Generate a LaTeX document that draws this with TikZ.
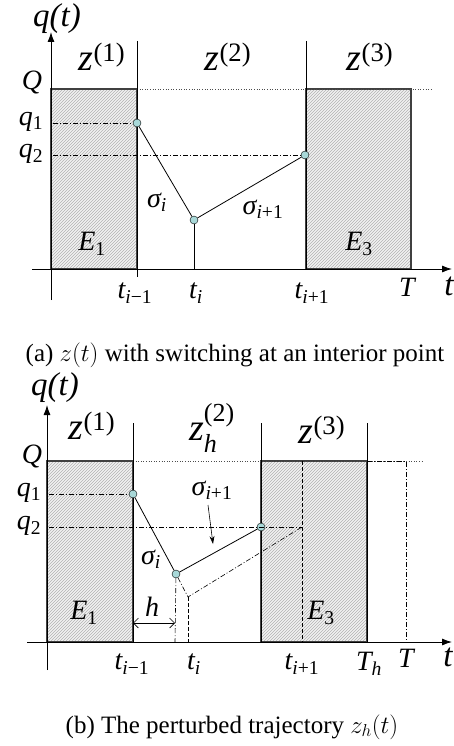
\documentclass[tikz,border=0pt]{standalone}
\usepackage{fontspec}
\setmainfont{Liberation Serif}
\usetikzlibrary{patterns,arrows.meta}
\definecolor{ptfill}{HTML}{A8D8D8}

\begin{document}
\begin{tikzpicture}[x=1pt,y=-1pt,
  axis/.style={-{Latex[length=10pt,width=7pt]},line width=0.9pt},
  region/.style={draw=black!75,line width=1.4pt,pattern=north east lines,pattern color=black!30,preaction={fill=black!5}},
  sep/.style={line width=0.8pt},
  dashdot/.style={dash pattern=on 5pt off 2pt on 1pt off 2pt,line width=0.6pt},
  dashline/.style={dash pattern=on 4pt off 2pt,line width=0.6pt},
  dotline/.style={dotted,line width=0.6pt,black!70},
  pt/.style={circle,draw,fill=ptfill,inner sep=0pt,minimum size=8pt},
  lab/.style={font=\fontsize{28}{30}\selectfont\itshape,inner sep=0pt},
  big/.style={font=\fontsize{38}{40}\selectfont\itshape,inner sep=0pt},
  axlab/.style={font=\fontsize{33}{35}\selectfont\itshape,inner sep=0pt},
  capt/.style={font=\fontsize{25}{28}\selectfont,inner sep=0pt}]
\useasboundingbox (0,0) rectangle (454,746);

% (a) switching at an interior point
\draw[region] (51,89) rectangle (137,269);
\draw[region] (306,89) rectangle (411,269);
\draw[dotline] (137,89) -- (433,89);
\draw[sep] (137,41) -- (137,277);
\draw[sep] (306,41) -- (306,269);
\coordinate (aY0) at (51,300); \coordinate (aY1) at (51,32);
\coordinate (aX0) at (32,269); \coordinate (aX1) at (452,269);
\draw[axis] (aY0) -- (aY1);
\draw[axis] (aX0) -- (aX1);
\node[pt] (aA) at (137,123) {};
\node[pt] (aB) at (194,220) {};
\node[pt] (aC) at (305,155) {};
\coordinate (aQ1) at (53,123); \coordinate (aQ2) at (53,155);
\coordinate (aBt) at (194,269);
\draw[dashdot] (aQ1) -- (aA);
\draw[dashdot] (aQ2) -- (aC);
\draw[sep] (aA) -- (aB) -- (aC);
\draw[sep] (aB) -- (aBt);
\node[axlab] (aqt) at (57,19) {q(t)};
\node[big] (az1) at (102,57) {z\textsuperscript{\upshape(1)}};
\node[big] (az2) at (228,57) {z\textsuperscript{\upshape(2)}};
\node[big] (az3) at (370,57) {z\textsuperscript{\upshape(3)}};
\node[lab] (aQ) at (32,83) {Q};
\node[lab] (aq1) at (31,122) {q\textsubscript{\upshape 1}};
\node[lab] (aq2) at (31,154) {q\textsubscript{\upshape 2}};
\node[lab] (asi) at (157,202) {σ\textsubscript{i}};
\node[lab] (asi1) at (263,209) {σ\textsubscript{i\upshape +1}};
\node[lab] (aE1) at (92,244) {E\textsubscript{\upshape 1}};
\node[lab] (aE3) at (359,244) {E\textsubscript{\upshape 3}};
\node[lab] (at1) at (135,293) {t\textsubscript{i\upshape −1}};
\node[lab] (at2) at (196,293) {t\textsubscript{i}};
\node[lab] (at3) at (312,293) {t\textsubscript{i\upshape +1}};
\node[lab] (aT) at (407,287) {T};
\node[axlab] (at) at (449,286) {t};
\node[capt] (acap) at (235,355) {(a) $z(t)$ with switching at an interior point};

% (b) perturbed trajectory
\draw[region] (47,461) rectangle (133,642);
\draw[region] (261,461) rectangle (367,642);
\draw[dotline] (133,461) -- (422,461);
\draw[sep] (133,423) -- (133,642);
\draw[sep] (261,423) -- (261,642);
\draw[sep] (367,423) -- (367,642);
\coordinate (bY0) at (47,670); \coordinate (bY1) at (47,405);
\coordinate (bX0) at (27,642); \coordinate (bX1) at (452,642);
\coordinate (bTa) at (406,461); \coordinate (bTb) at (406,642);
\coordinate (bRa) at (367,461);
\coordinate (bPa) at (302,461); \coordinate (bPb) at (302,642);
\draw[dashdot] (bRa) -- (bTa) -- (bTb);
\draw[dashline] (bPa) -- (bPb);
\draw[axis] (bY0) -- (bY1);
\draw[axis] (bX0) -- (bX1);
\node[pt] (bA) at (133,494) {};
\node[pt] (bB) at (176,574) {};
\node[pt] (bC) at (261,527) {};
\coordinate (bQ1) at (49,494); \coordinate (bQ2) at (49,527);
\coordinate (bQ2e) at (302,527);
\coordinate (bBt) at (175,642);
\coordinate (bD) at (188,597); \coordinate (bDt) at (188,642);
\draw[dashdot] (bQ1) -- (bA);
\draw[dashdot] (bQ2) -- (bQ2e);
\draw[sep] (bA) -- (bB) -- (bC);
\draw[dashdot] (bB) -- (bBt);
\draw[dashdot] (bB) -- (bD) -- (bQ2e);
\draw[dashline] (bD) -- (bDt);
\coordinate (bh0) at (133,623); \coordinate (bh1) at (175,623);
\draw[{Straight Barb[length=5pt]}-{Straight Barb[length=5pt]},line width=0.6pt] (bh0) -- (bh1);
\node[lab] (bh) at (152,607) {h};
\node[axlab] (bqt) at (55,388) {q(t)};
\node[big] (bz1) at (92,426) {z\textsuperscript{\upshape(1)}};
\node[big] (bz2) at (203,428) {z\makebox[0pt][l]{\raisebox{0.5em}{\fontsize{26}{28}\selectfont\upshape(2)}}\raisebox{-0.32em}{\fontsize{26}{28}\selectfont h}};
\node[big] (bz3) at (322,430) {z\textsuperscript{\upshape(3)}};
\node[lab] (bQ) at (32,456) {Q};
\node[lab] (bq1) at (29,493) {q\textsubscript{\upshape 1}};
\node[lab] (bq2) at (29,526) {q\textsubscript{\upshape 2}};
\node[lab] (bsi) at (151,559) {σ\textsubscript{i}};
\node[lab] (bsi1) at (212,490) {σ\textsubscript{i\upshape +1}};
\coordinate (bs0) at (208,505); \coordinate (bs1) at (213,544);
\draw[-{Stealth[length=8pt,width=5pt]},line width=0.6pt] (bs0) -- (bs1);
\node[lab] (bE1) at (84,613) {E\textsubscript{\upshape 1}};
\node[lab] (bE3) at (321,613) {E\textsubscript{\upshape 3}};
\node[lab] (bt1) at (132,664) {t\textsubscript{i\upshape −1}};
\node[lab] (bt2) at (194,664) {t\textsubscript{i}};
\node[lab] (bt3) at (302,664) {t\textsubscript{i\upshape +1}};
\node[lab] (bTh) at (369,664) {T\textsubscript{h}};
\node[lab] (bT) at (406,658) {T};
\node[axlab] (bt) at (448,657) {t};
\node[capt] (bcap) at (232,727) {(b) The perturbed trajectory $z_h(t)$};
\end{tikzpicture}
\end{document}
